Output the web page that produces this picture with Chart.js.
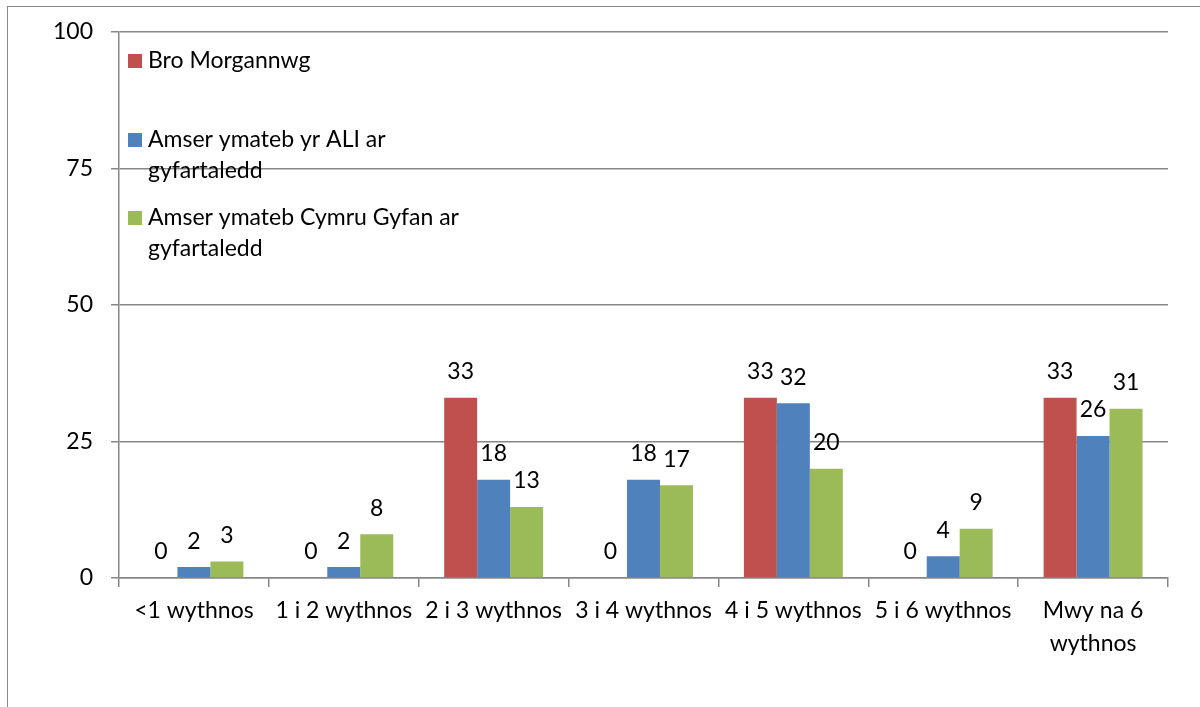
<!DOCTYPE html>
<html lang="cy">
<head>
  <meta charset="UTF-8" />
  <title>Amser ymateb</title>
  <script src="https://cdn.jsdelivr.net/npm/chart.js@4.4.0/dist/chart.umd.min.js"></script>
  <style>
    * { box-sizing: border-box; }
    html, body { margin: 0; padding: 0; background: #fff; }
    .wrap { position: relative; width: 1200px; height: 707px; overflow: hidden; }
    /* ffrâm allanol y siart */
    .frame {
      position: absolute; left: 7px; top: 6px; width: 1300px; height: 800px;
      border-left: 1.5px solid #888; border-top: 1.5px solid #888;
    }
    canvas { position: absolute; left: 0; top: 0; }
  </style>
</head>
<body>
  <div class="wrap">
    <div class="frame"></div>
    <canvas id="siart" width="1200" height="707"></canvas>
  </div>

  <script>
    /* ---- data ---- */
    var categories = ["<1 wythnos", "1 i 2 wythnos", "2 i 3 wythnos", "3 i 4 wythnos",
                      "4 i 5 wythnos", "5 i 6 wythnos", ["Mwy na 6", "wythnos"]];
    var broMorgannwg = [0, 0, 33, 0, 33, 0, 33];
    var amserALI     = [2, 2, 18, 18, 32, 4, 26];
    var amserCymru   = [3, 8, 13, 17, 20, 9, 31];
    var seriesNames  = ["Bro Morgannwg",
                        "Amser ymateb yr ALI ar gyfartaledd",
                        "Amser ymateb Cymru Gyfan ar gyfartaledd"];
    var yTicks = [0, 25, 50, 75, 100];

    var FONT = "Lato, Carlito, Calibri, sans-serif";
    var MAINT = 23;
    var lliwiau = ["#C0504D", "#4F81BD", "#9BBB59"];

    /* labeli gwerth uwchben y barrau */
    var labeliGwerth = {
      id: "labeliGwerth",
      afterDatasetsDraw: function (chart) {
        var ctx = chart.ctx;
        ctx.save();
        ctx.font = MAINT + "px " + FONT;
        ctx.fillStyle = "#000";
        ctx.textAlign = "center";
        ctx.textBaseline = "middle";
        chart.data.datasets.forEach(function (ds, i) {
          chart.getDatasetMeta(i).data.forEach(function (bar, j) {
            ctx.fillText(String(ds.data[j]), bar.x, bar.y - 26);
          });
        });
        ctx.restore();
      }
    };

    /* allwedd y tu mewn i'r siart */
    var allwedd = {
      id: "allwedd",
      afterDraw: function (chart) {
        var ctx = chart.ctx;
        var tops = [61, 140, 218];
        ctx.save();
        ctx.font = MAINT + "px " + FONT;
        ctx.textBaseline = "middle";
        chart.data.datasets.forEach(function (ds, i) {
          var words = ds.label.split(" "), lines = [], cur = "";
          words.forEach(function (w) {
            var t = cur ? cur + " " + w : w;
            if (ctx.measureText(t).width > 345 && cur) { lines.push(cur); cur = w; }
            else cur = t;
          });
          lines.push(cur);
          ctx.fillStyle = ds.backgroundColor;
          ctx.fillRect(128, tops[i] - 7, 14, 14);
          ctx.fillStyle = "#000";
          lines.forEach(function (l, k) { ctx.fillText(l, 148, tops[i] + k * 31); });
        });
        ctx.restore();
      }
    };

    new Chart(document.getElementById("siart"), {
      type: "bar",
      data: {
        labels: categories,
        datasets: [
          { label: seriesNames[0], data: broMorgannwg, backgroundColor: lliwiau[0] },
          { label: seriesNames[1], data: amserALI,     backgroundColor: lliwiau[1] },
          { label: seriesNames[2], data: amserCymru,   backgroundColor: lliwiau[2] }
        ]
      },
      options: {
        responsive: false,
        animation: false,
        layout: { padding: { top: 32, right: 32, left: 0, bottom: 0 } },
        datasets: { bar: { barPercentage: 1, categoryPercentage: 0.66 } },
        plugins: { legend: { display: false }, tooltip: { enabled: false } },
        scales: {
          x: {
            grid: { offset: true, drawOnChartArea: false, drawTicks: true, tickLength: 9,
                    color: "#878787", lineWidth: 1.5 },
            border: { color: "#878787", width: 1.5 },
            ticks: { color: "#000", font: { size: MAINT, family: FONT, lineHeight: 1.43 },
                     padding: 7, maxRotation: 0, autoSkip: false },
            afterFit: function (s) { s.height = 129; }
          },
          y: {
            min: 0, max: 100,
            afterBuildTicks: function (s) { s.ticks = yTicks.map(function (v) { return { value: v }; }); },
            grid: { color: "#878787", lineWidth: 1.5, tickLength: 8 },
            border: { color: "#878787", width: 1.5 },
            ticks: { color: "#000", font: { size: MAINT, family: FONT }, padding: 18 },
            afterFit: function (s) { s.width = 119; }
          }
        }
      },
      plugins: [labeliGwerth, allwedd]
    });
  </script>
</body>
</html>
